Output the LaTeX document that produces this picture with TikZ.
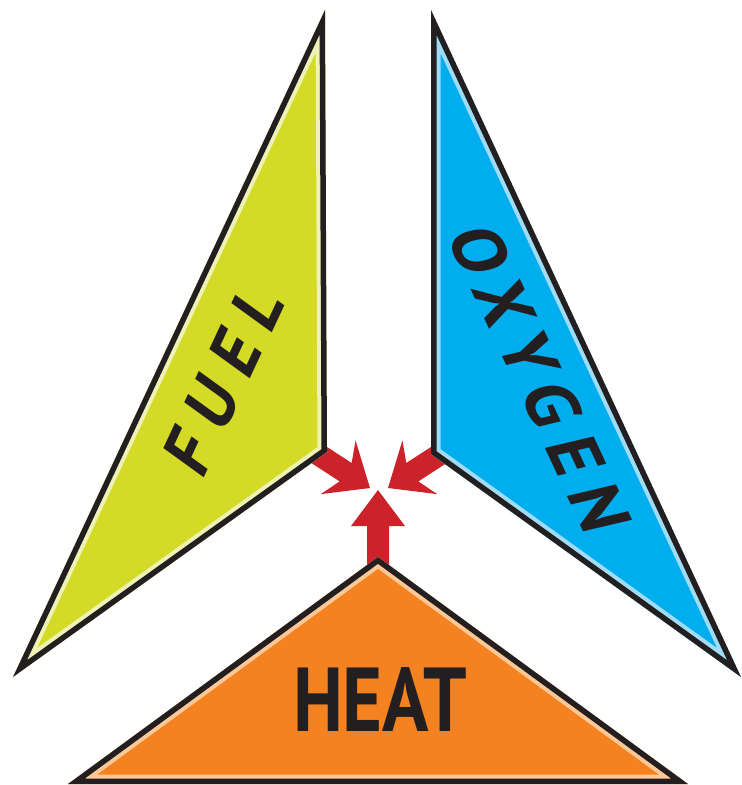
\documentclass[tikz,border=0pt]{standalone}
\usepackage{fontspec}
\setmainfont{PT Sans}
\newfontfamily\fuelfont{PT Sans}[FakeSlant=0.2,LetterSpace=24]
\newfontfamily\oxyfont{PT Sans}[FakeSlant=0.2,LetterSpace=21]
\definecolor{ink}{HTML}{231F20}
\definecolor{fuelc}{HTML}{D4DB27}
\definecolor{fuell}{HTML}{EEF2B4}
\definecolor{oxyc}{HTML}{00AEEF}
\definecolor{oxyl}{HTML}{A0DCF6}
\definecolor{heatc}{HTML}{F58220}
\definecolor{heatl}{HTML}{FDC896}
\definecolor{flame}{HTML}{CC2229}
\newcommand{\bandedshape}[3]{%
  \begin{scope}
    \clip #1;
    \fill[#2] #1;
    \draw[#3, line width=19pt] #1;
    \draw[ink, line width=11pt] #1;
  \end{scope}}
\begin{document}
\begin{tikzpicture}[x=1pt,y=-1pt,line join=miter,
  firearrow/.style={fill=flame, draw=none},
  wordlabel/.style={inner sep=0pt, text=ink}]
\useasboundingbox (0,0) rectangle (742,785);
% vertices
\coordinate (F1) at (325,10);
\coordinate (F2) at (327,452);
\coordinate (F3) at (13,677);
\coordinate (O1) at (431,10);
\coordinate (O2) at (431,454);
\coordinate (O3) at (741,677);
\coordinate (H1) at (378,557);
\coordinate (H2) at (688,784);
\coordinate (H3) at (68,784);
% arrows (drawn below the shapes)
\begin{scope}[shift={(370,488)}, rotate=-33]
  \fill[firearrow] (0,0) -- (-38,32) -- (-29,11) -- (-80,11) -- (-80,-11) -- (-29,-11) -- (-38,-32) -- cycle;
\end{scope}
\begin{scope}[shift={(388,488)}, rotate=213]
  \fill[firearrow] (0,0) -- (-38,32) -- (-29,11) -- (-80,11) -- (-80,-11) -- (-29,-11) -- (-38,-32) -- cycle;
\end{scope}
\begin{scope}[shift={(378,490)}, rotate=90]
  \fill[firearrow] (0,0) -- (-36,27) -- (-36,11) -- (-80,11) -- (-80,-11) -- (-36,-11) -- (-36,-27) -- cycle;
\end{scope}
% shapes
\bandedshape{(F1)--(F2)--(F3)--cycle}{fuelc}{fuell}
\bandedshape{(O1)--(O2)--(O3)--cycle}{oxyc}{oxyl}
\bandedshape{(H1)--(H2)--(H3)--cycle}{heatc}{heatl}
% words
\node[wordlabel, rotate=65] (fuel) at (222,383)
  {\resizebox{195pt}{49pt}{\fuelfont\bfseries\fontsize{70}{70}\selectfont FUEL}};
\node[wordlabel, rotate=-65] (oxygen) at (538,375)
  {\resizebox{333pt}{50pt}{\oxyfont\bfseries\fontsize{71}{71}\selectfont OXYGEN}};
\node[wordlabel] (heat) at (380,699.5)
  {\resizebox{174pt}{64pt}{\bfseries\fontsize{93}{93}\selectfont HEAT}};
\end{tikzpicture}
\end{document}
